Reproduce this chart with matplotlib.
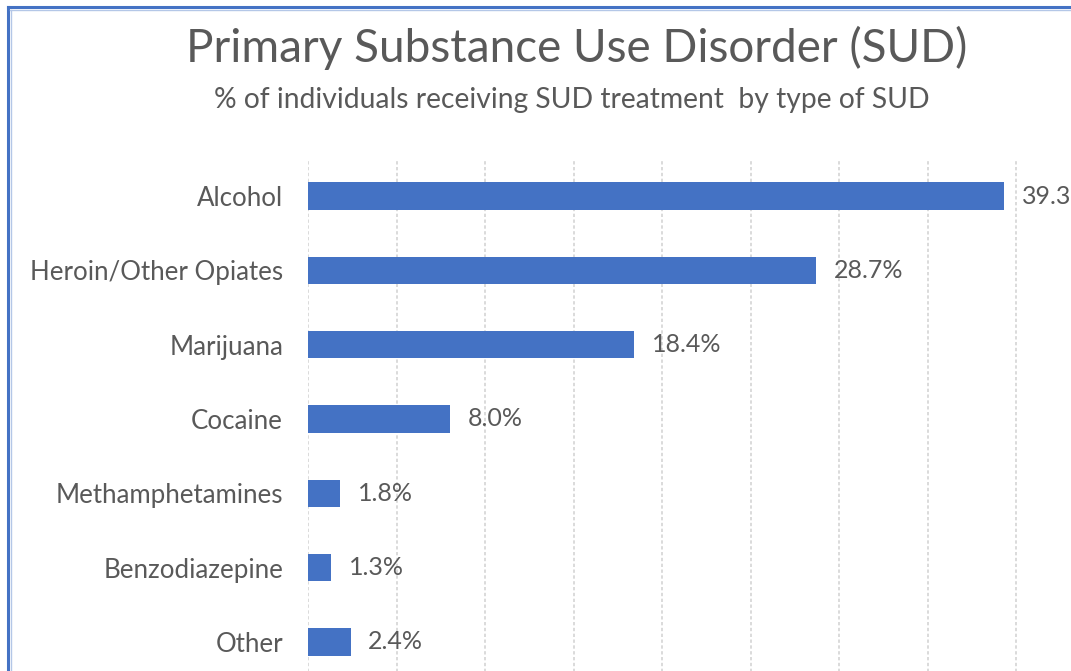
import matplotlib.pyplot as plt
from matplotlib.lines import Line2D

categories = ['Alcohol', 'Heroin/Other Opiates', 'Marijuana', 'Cocaine',
              'Methamphetamines', 'Benzodiazepine', 'Other']
values = [39.3, 28.7, 18.4, 8.0, 1.8, 1.3, 2.4]
labels = ['39.3%', '28.7%', '18.4%', '8.0%', '1.8%', '1.3%', '2.4%']

W, H = 1071, 671
fig = plt.figure(figsize=(W / 100, H / 100), dpi=100)
plt.rcParams['font.family'] = ['Lato', 'DejaVu Sans']
gray = '#595959'

# axes placed in pixel terms (the chart is cropped on the right and bottom)
left, top, bottom, right = 308, 159, 679, 1105
ax = fig.add_axes([left / W, (H - bottom) / H, (right - left) / W, (bottom - top) / H])

y = range(len(categories))
ax.barh(y, values, height=0.37, color='#4472C4', zorder=3)
for i, (v, lab) in enumerate(zip(values, labels)):
    ax.text(v + 1.0, i, lab, va='center', ha='left', fontsize=18, color=gray)

ax.set_xlim(0, 45)
ax.set_ylim(len(categories) - 0.5, -0.5)
ax.set_xticks(range(0, 50, 5))
ax.xaxis.grid(True, color='#d4d4d4', linestyle=(0, (2, 1.5)), linewidth=1.2, zorder=0)
ax.tick_params(axis='x', length=0, labelbottom=False)
ax.set_yticks(list(y))
ax.set_yticklabels(categories, fontsize=18.6, color=gray)
ax.tick_params(axis='y', length=0, pad=18)
for s in ax.spines.values():
    s.set_visible(False)

fig.text(577 / W, 1 - 48 / H, 'Primary Substance Use Disorder (SUD)', ha='center', va='center',
         fontsize=33, color=gray)
fig.text(572 / W, 1 - 100 / H, '% of individuals receiving SUD treatment  by type of SUD',
         ha='center', va='center', fontsize=20.3, color=gray)

# blue frame along the top and left edge
fig.add_artist(Line2D([8 / W, 1], [1 - 7 / H, 1 - 7 / H], color='#4472C4', linewidth=2.2))
fig.add_artist(Line2D([8 / W, 8 / W], [0, 1 - 7 / H], color='#4472C4', linewidth=2.2))
fig.add_artist(Line2D([10 / W, 1], [1 - 9.5 / H, 1 - 9.5 / H], color='#b4c7e7', linewidth=1))
fig.add_artist(Line2D([10.5 / W, 10.5 / W], [0, 1 - 9.5 / H], color='#b4c7e7', linewidth=1))

fig.savefig('out.png', dpi=100)
